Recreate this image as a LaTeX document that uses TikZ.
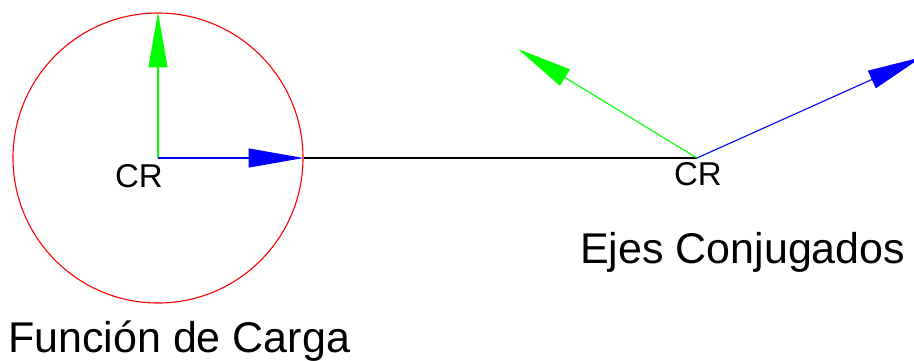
\documentclass[tikz,border=0pt]{standalone}
\usepackage{fontspec}
\setmainfont{Liberation Sans}
\usetikzlibrary{arrows.meta, positioning}

\begin{document}
\begin{tikzpicture}[
      x=1pt, y=-1pt,
      eje/.style={line width=1.1pt, -{Triangle[length=55pt, width=19pt]}},
      cr/.style={anchor=base, inner sep=0pt, font=\fontsize{33}{38}\selectfont},
      titulo/.style={anchor=base west, inner sep=0pt, font=\fontsize{43}{50}\selectfont}
    ]
      \useasboundingbox (0,0) rectangle (914,360);
      \coordinate (c1) at (158,158);
      \coordinate (c2) at (697,158);
      \node[circle, draw=red, line width=1.1pt, minimum size=290pt, inner sep=0pt] (carga) at (c1) {};
      \coordinate (u1) at (carga.north);
      \coordinate (u2) at (518,49);
      \coordinate (v2) at (922,57);
      % funcion de carga
      \draw[eje, green] (c1) -- (u1);
      \draw[eje, blue] (c1) -- (carga.east);
      \draw[line width=1.1pt] (carga.east) -- (c2);
      % ejes conjugados
      \draw[eje, green] (c2) -- (u2);
      \draw[eje, blue] (c2) -- (v2);
      \node[cr] (cr1) at (139,187) {CR};
      \node[cr] (cr2) at (698,185) {CR};
      \node[titulo] (conj) at (580,263) {Ejes Conjugados};
      \node[titulo] (func) at (8,352) {Función de Carga};
    \end{tikzpicture}
\end{document}
